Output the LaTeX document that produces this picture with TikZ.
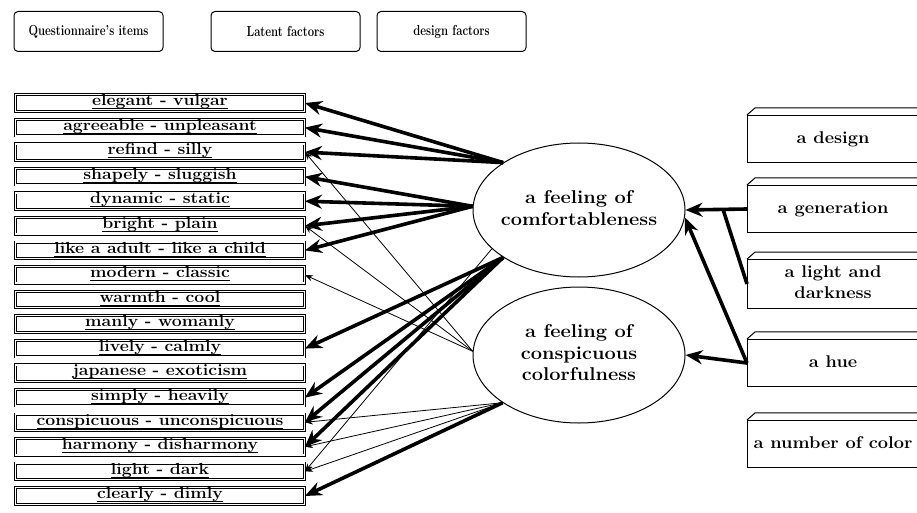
\documentclass[tikz,border=0pt]{standalone}
\usepackage{fontspec}
\usetikzlibrary{arrows.meta, shapes.geometric, calc}
\newcommand{\headfont}{\fontsize{14.5}{17}\selectfont\bfseries}
\newcommand{\itemfont}{\fontsize{16}{19}\selectfont\bfseries}
\newcommand{\factorfont}{\fontsize{18.5}{21.5}\selectfont\bfseries}
\newcommand{\designfont}{\fontsize{17}{21}\selectfont\bfseries}
\newcommand{\widetext}[2]{\scalebox{#1}[1]{\begin{tabular}{@{}c@{}}#2\end{tabular}}}
\newsavebox{\itemline}
\newcommand{\itemtext}[1]{%
  \sbox{\itemline}{\scalebox{1.1}[1]{#1}}%
  \rlap{\rule[-3.4pt]{\wd\itemline}{0.9pt}}\usebox{\itemline}}
\tikzset{
  loadthick/.style={-{Stealth[length=17pt, width=14pt]}, line width=3.6pt},
  loadthin/.style={-{Stealth[length=8pt, width=6pt]}, line width=0.8pt},
}
\newcommand{\headbox}[3]{%
  \node[draw, line width=1pt, rounded corners=4pt, minimum width=149pt,
        minimum height=40pt, inner sep=0pt] (#1) at (#2,31.5)
        {\headfont\scalebox{0.78}[1]{#3}};}
\newcommand{\itembox}[3]{%
  \node[draw, double, double distance=1.4pt, line width=0.8pt, fill=white,
        minimum width=289pt, text height=11pt, text depth=5.5pt, inner sep=0pt,
        font=\itemfont] (#1) at (160,#2) {\itemtext{#3}};}
\newcommand{\designbox}[3]{%
  \node[draw, line width=1.1pt, anchor=west, minimum width=171pt,
        minimum height=47pt, font=\designfont] (#1) at (747,#2)
        {\widetext{1.07}{#3}};
  \draw[line width=1pt] (#1.north west) -- ++(8,-7) -- ++(170,0);}

\begin{document}
\begin{tikzpicture}[x=1pt, y=-1pt]
  \useasboundingbox (0,0) rectangle (917,513);

  % column heads
  \headbox{h1}{88.5}{Questionnaire's items}
  \headbox{h2}{285.5}{Latent factors}
  \headbox{h3}{451.5}{design factors}

  % questionnaire's items
  \itembox{q1}{103.0}{elegant - vulgar}
  \itembox{q2}{127.6}{agreeable - unpleasant}
  \itembox{q3}{152.1}{refind - silly}
  \itembox{q4}{176.7}{shapely - sluggish}
  \itembox{q5}{201.2}{dynamic - static}
  \itembox{q6}{225.8}{bright - plain}
  \itembox{q7}{250.4}{like a adult - like a child}
  \itembox{q8}{274.9}{modern - classic}
  \itembox{q9}{299.5}{warmth - cool}
  \itembox{q10}{324.0}{manly - womanly}
  \itembox{q11}{348.6}{lively - calmly}
  \itembox{q12}{373.2}{japanese - exoticism}
  \itembox{q13}{397.7}{simply - heavily}
  \itembox{q14}{422.3}{conspicuous - unconspicuous}
  \itembox{q15}{446.8}{harmony - disharmony}
  \itembox{q16}{471.4}{light - dark}
  \itembox{q17}{496.0}{clearly - dimly}

  % latent factors
  \node[ellipse, draw, line width=1pt, minimum width=212pt, minimum height=134pt,
        inner sep=0pt, font=\factorfont] (f1) at (579,210)
        {\makebox[110pt]{\widetext{1.08}{a feeling of\\comfortableness}}};
  \node[ellipse, draw, line width=1pt, minimum width=212pt, minimum height=136pt,
        inner sep=0pt, font=\factorfont] (f2) at (579,355)
        {\makebox[110pt]{\widetext{1.08}{a feeling of\\conspicuous\\colorfulness}}};

  % design factors
  \designbox{d1}{139}{a design}
  \designbox{d2}{209}{a generation}
  \designbox{d3}{284}{a light and\\darkness}
  \designbox{d4}{363}{a hue}
  \designbox{d5}{444}{a number of color}

  % comfortableness -> items
  \draw[loadthick] (f1.148) -- (q1.east);
  \draw[loadthick] (f1.148) -- (q2.east);
  \draw[loadthick] (f1.148) -- (q3.east);
  \draw[loadthick] (f1.178) -- (q4.east);
  \draw[loadthick] (f1.178) -- (q5.east);
  \draw[loadthick] (f1.178) -- (q6.east);
  \draw[loadthick] (f1.178) -- (q7.east);
  \draw[loadthick] (f1.212) -- (q11.east);
  \draw[loadthick] (f1.212) -- (q13.east);
  \draw[loadthick] (f1.212) -- (q14.east);
  \draw[loadthick] (f1.212) -- (q15.east);
  \draw[loadthin] (f1.204) -- (q16.east);

  % colorfulness -> items
  \draw[loadthin] (f2.178) -- (q3.east);
  \draw[loadthin] (f2.178) -- (q6.east);
  \draw[loadthin] (f2.178) -- (q8.east);
  \draw[loadthin] (f2.212) -- (q14.east);
  \draw[loadthin] (f2.212) -- (q15.east);
  \draw[loadthin] (f2.212) -- (q16.east);
  \draw[loadthick] (f2.212) -- (q17.east);

  % design factors -> latent factors
  \draw[loadthick] (d2.west) -- (f1.east);
  \coordinate (join) at ($(d2.west)!0.39!(f1.east)$);
  \draw[line width=3.6pt] (d3.west) -- (join);
  \draw[loadthick] (d4.west) -- (f1.356);
  \draw[loadthick] (d4.west) -- (f2.east);
\end{tikzpicture}
\end{document}
